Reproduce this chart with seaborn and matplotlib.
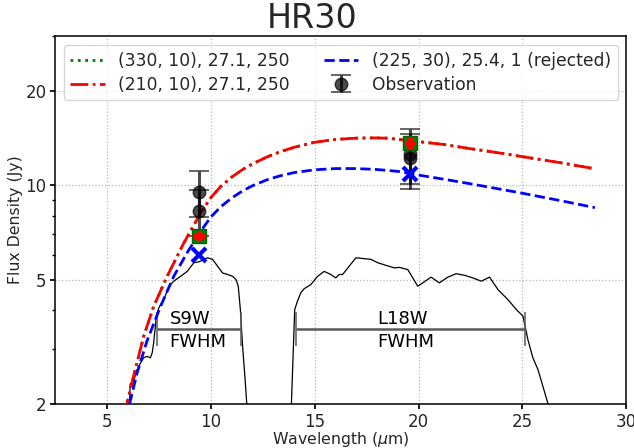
import matplotlib
matplotlib.use("Agg")
import matplotlib.pyplot as plt
import seaborn as sns
from matplotlib.ticker import FixedLocator, NullFormatter, LogLocator

sns.set_theme(style="ticks")
plt.rcParams['font.family'] = ['DejaVu Sans']

# ---- model SEDs (wavelength in micron, flux density in Jy) ----
red_wave = [5.8, 5.94, 6.26, 6.75, 7.23, 7.88, 8.69, 9.5, 10.0, 10.47, 11.0, 11.5, 12.0,
            12.69, 13.3, 14.0, 15.0, 16.0, 17.0, 17.8, 18.5, 20.0, 21.2, 22.35, 23.7,
            25.0, 26.8, 28.5]
red_flux = [1.83, 2.0, 2.45, 3.29, 4.10, 5.12, 6.55, 8.17, 9.16, 9.93, 10.64, 11.22, 11.72,
            12.33, 12.79, 13.24, 13.74, 14.03, 14.16, 14.19, 14.16, 13.80, 13.52, 13.15, 12.76,
            12.36, 11.83, 11.30]

green_wave = [5.8, 5.94, 6.26, 6.75, 7.23, 7.88, 8.69, 9.5, 10.0, 10.47, 11.0, 11.5, 12.0,
              12.69, 13.3, 14.0, 15.0, 16.0, 17.0, 17.8, 18.5, 20.0, 21.2, 22.35, 23.7,
              25.0, 26.8, 28.5]
green_flux = [1.83, 2.0, 2.45, 3.29, 4.10, 5.12, 6.55, 8.17, 9.16, 9.93, 10.64, 11.22, 11.72,
              12.33, 12.79, 13.24, 13.74, 14.03, 14.16, 14.19, 14.16, 13.80, 13.52, 13.15, 12.76,
              12.36, 11.83, 11.30]

blue_wave = [5.9, 6.07, 6.43, 6.91, 7.56, 8.2, 8.85, 9.5, 10.0, 10.47, 11.0, 11.5, 12.0,
             12.69, 13.3, 14.0, 15.0, 16.0, 17.0, 18.0, 19.0, 20.0, 21.2, 22.35, 23.7,
             25.0, 26.8, 28.5]
blue_flux = [1.80, 2.0, 2.51, 3.18, 4.10, 5.12, 6.10, 7.14, 7.94, 8.55, 9.12, 9.59, 9.98,
             10.42, 10.72, 10.99, 11.22, 11.32, 11.32, 11.24, 11.09, 10.79, 10.47, 10.16, 9.79,
             9.44, 8.95, 8.49]

model_labels = ["(330, 10), 27.1, 250", "(210, 10), 27.1, 250", "(225, 30), 25.4, 1 (rejected)"]

# ---- synthetic photometry of the models in each band ----
band_wave = [9.4, 19.6]
green_phot = [6.9, 13.7]
red_phot = [6.9, 13.7]
blue_phot = [6.0, 10.9]

# ---- observed photometry ----
obs_wave = [9.4, 9.4, 19.6, 19.6]
obs_flux = [9.5, 8.3, 12.6, 12.2]
obs_err = [1.58, 1.4, 2.5, 2.45]

# ---- filter transmission profiles (scaled onto the flux axis) ----
s9w_wave = [6.0, 6.07, 6.10, 6.26, 6.43, 6.59, 6.75, 6.91, 7.07, 7.16, 7.23, 7.36, 7.48, 7.72,
            7.88, 8.04, 8.20, 8.53, 8.85, 9.17, 9.42, 9.83, 10.07, 10.31, 10.55, 10.80,
            11.04, 11.20, 11.31, 11.41, 11.52, 11.64, 11.72, 11.8]
s9w_level = [1.5, 2.0, 2.32, 2.36, 2.57, 2.70, 2.81, 2.84, 2.81, 2.91, 3.13, 3.80, 4.06, 4.31,
             4.59, 4.82, 4.94, 5.12, 5.31, 5.66, 5.70, 5.87, 5.80, 5.52, 5.25, 5.19,
             5.12, 5.0, 4.76, 4.01, 3.05, 2.39, 2.0, 1.6]

l18w_wave = [13.85, 13.87, 14.03, 14.16, 14.32, 14.48, 14.81, 15.13, 15.45, 15.77, 16.01, 16.17,
             16.34, 16.66, 16.98, 17.71, 18.03, 18.43, 18.83, 19.07, 19.48, 19.72, 19.96,
             20.20, 20.60, 21.00, 21.41, 21.81, 22.21, 22.62, 23.02, 23.42, 23.83, 24.31,
             24.71, 25.03, 25.27, 25.51, 25.76, 26.24, 26.35]
l18w_level = [1.6, 2.0, 4.01, 4.26, 4.53, 4.67, 4.82, 5.12, 5.31, 5.19, 5.06, 5.19,
              5.19, 5.52, 5.87, 5.80, 5.66, 5.55, 5.45, 5.47, 5.38, 5.06, 4.76,
              4.88, 5.09, 4.88, 5.09, 5.22, 5.16, 5.06, 4.94, 5.09, 4.64, 4.31,
              4.01, 3.82, 3.21, 2.81, 2.57, 2.0, 1.8]

filter_names = ["S9W", "L18W"]
fwhm_lo = [7.40, 14.08]
fwhm_hi = [11.44, 25.11]
fwhm_level = 3.48
filter_text_x = [8.0, 18.0]

# ---- figure ----
fig = plt.figure(figsize=(6.34, 4.48), dpi=100)
ax = fig.add_axes([0.0875, 0.0982, 0.9, 0.821])

# filter profiles
for w, lv in [(s9w_wave, s9w_level), (l18w_wave, l18w_level)]:
    ax.plot(w, lv, color="black", lw=0.9, zorder=2)

# FWHM bars and filter names
for name, lo, hi, tx in zip(filter_names, fwhm_lo, fwhm_hi, filter_text_x):
    ax.errorbar((lo + hi) / 2, fwhm_level, xerr=(hi - lo) / 2, fmt="none",
                ecolor="0.35", elinewidth=1.8, capsize=12, capthick=1.1, zorder=2)
    ax.text(tx, fwhm_level * 1.075, name, ha="left", va="center", fontsize=13, color="black")
    ax.text(tx, fwhm_level * 0.905, "FWHM", ha="left", va="center", fontsize=13, color="black")

# model SEDs
sns.lineplot(x=green_wave, y=green_flux, ax=ax, color="green", linestyle=":", lw=2,
             label=model_labels[0], zorder=3)
sns.lineplot(x=red_wave, y=red_flux, ax=ax, color="red", linestyle="-.", lw=2,
             label=model_labels[1], zorder=4)
sns.lineplot(x=blue_wave, y=blue_flux, ax=ax, color="blue", linestyle="--", lw=2,
             label=model_labels[2], zorder=4)

# observations
for i, (w, f, e) in enumerate(zip(obs_wave, obs_flux, obs_err)):
    ax.errorbar(w, f, yerr=e, fmt="o", color="black", ms=9, elinewidth=2.2,
                capsize=7, capthick=1.2, alpha=0.7, zorder=5,
                label="Observation" if i == 0 else None)

# model photometry
ax.plot(band_wave, green_phot, "s", color="green", ms=10, mec="darkgreen", mew=1, zorder=6)
ax.plot(band_wave, red_phot, "P", mfc="white", mec="red", ms=6, mew=2.3, zorder=7)
ax.plot(band_wave, blue_phot, "x", color="blue", ms=10, mew=3, zorder=7)

# axes
ax.set_yscale("log")
ax.set_xlim(2.5, 30)
ax.set_ylim(2, 30)
ax.set_xticks([5, 10, 15, 20, 25, 30])
ax.yaxis.set_major_locator(FixedLocator([2, 5, 10, 20]))
ax.set_yticklabels(["2", "5", "10", "20"])
ax.yaxis.set_minor_locator(LogLocator(subs=(1, 2, 3, 4, 5, 6, 7, 8, 9)))
ax.yaxis.set_minor_formatter(NullFormatter())
ax.tick_params(axis="both", which="major", labelsize=12, length=3.5, pad=3,
               color="black", direction="out")
ax.tick_params(axis="y", which="minor", length=2.2, color="black")
ax.grid(True, which="major", linestyle=":", color="0.72", lw=0.9)
for sp in ax.spines.values():
    sp.set_color("black")
    sp.set_linewidth(1.1)

ax.set_xlabel(r"Wavelength ($\mu$m)", fontsize=11.3, labelpad=-0.5)
ax.set_ylabel("Flux Density (Jy)", fontsize=11.3, labelpad=1.5)

fig.text(0.493, 1 - 28 / 448, "HR30", ha="center", va="baseline", fontsize=24)

handles, labels = ax.get_legend_handles_labels()
order = [labels.index(l) for l in model_labels[:2]] + \
        [labels.index(model_labels[2]), labels.index("Observation")]
ax.legend([handles[i] for i in order], [labels[i] for i in order],
          loc="upper center", ncol=2, fontsize=12.3, frameon=True,
          edgecolor="0.8", labelspacing=0.35)

fig.savefig("out.png", dpi=100)
